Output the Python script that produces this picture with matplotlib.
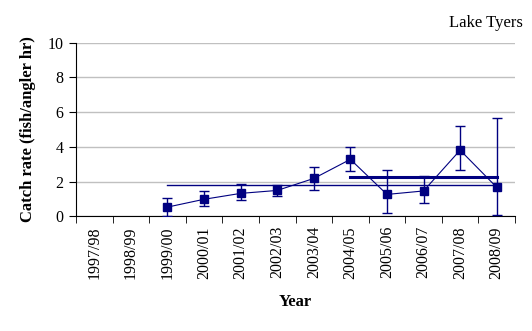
import matplotlib
matplotlib.use("Agg")
import matplotlib.pyplot as plt
import numpy as np

years = ["1997/98", "1998/99", "1999/00", "2000/01", "2001/02", "2002/03",
         "2003/04", "2004/05", "2005/06", "2006/07", "2007/08", "2008/09"]
catch_rate = [np.nan, np.nan, 0.53, 0.98, 1.32, 1.49, 2.18, 3.28, 1.26, 1.46, 3.81, 1.67]
upper = [np.nan, np.nan, 1.05, 1.44, 1.88, 1.80, 2.84, 3.99, 2.68, 2.30, 5.21, 5.67]
lower = [np.nan, np.nan, 0.02, 0.61, 0.92, 1.19, 1.53, 2.59, 0.21, 0.79, 2.68, 0.10]
long_term_mean = 1.79
long_term_span = ["1999/00", "2008/09"]
recent_mean = 2.27
recent_span = ["2004/05", "2008/09"]
yticks = [0, 2, 4, 6, 8, 10]

plt.rcParams['font.family'] = ['Liberation Serif', 'DejaVu Serif']
navy = '#000080'

fig = plt.figure(figsize=(5.32, 3.31), dpi=100)
ax = fig.add_axes([76/532, 1-216.3/331, (515-76)/532, (216.3-42.7)/331])

x = np.arange(len(years))
cr = np.array(catch_rate)
up = np.array(upper)
lo = np.array(lower)
ax.errorbar(x, cr, yerr=[cr - lo, up - cr], fmt='s-', color=navy, ms=5.5,
            lw=0.8, elinewidth=1.0, capsize=3.5, capthick=1.0, zorder=3)

i0, i1 = years.index(long_term_span[0]), years.index(long_term_span[1])
ax.plot([i0, i1], [long_term_mean]*2, color=navy, lw=1.0, zorder=2)
j0, j1 = years.index(recent_span[0]), years.index(recent_span[1])
ax.plot([j0, j1], [recent_mean]*2, color=navy, lw=2.2, zorder=2)

ax.set_xlim(-0.5, len(years) - 0.5)
ax.set_ylim(0, 10)
ax.set_yticks(yticks)
ax.set_yticklabels([str(t) for t in yticks], fontsize=11.5)
ax.yaxis.grid(True, color='#C0C0C0', lw=1.0)
ax.set_axisbelow(True)

ax.set_xticks(x)
ax.set_xticklabels(years, rotation=90, fontsize=11.5)
ax.tick_params(axis='x', which='major', length=0, pad=7)
ax.set_xticks(np.arange(-0.5, len(years), 1), minor=True)
ax.tick_params(axis='x', which='minor', length=5, direction='out')
ax.tick_params(axis='y', length=5, direction='out', pad=4)

for s in ['top', 'right']:
    ax.spines[s].set_visible(False)
ax.spines['left'].set_color('black')
ax.spines['bottom'].set_color('black')

ax.set_ylabel('Catch rate (fish/angler hr)', fontsize=12, fontweight='bold', labelpad=8)
ax.set_xlabel('Year', fontsize=12, fontweight='bold', labelpad=11)
fig.text(523/532, 1-23/331, 'Lake Tyers', ha='right', va='center', fontsize=12)

fig.savefig('out.png', dpi=100)
